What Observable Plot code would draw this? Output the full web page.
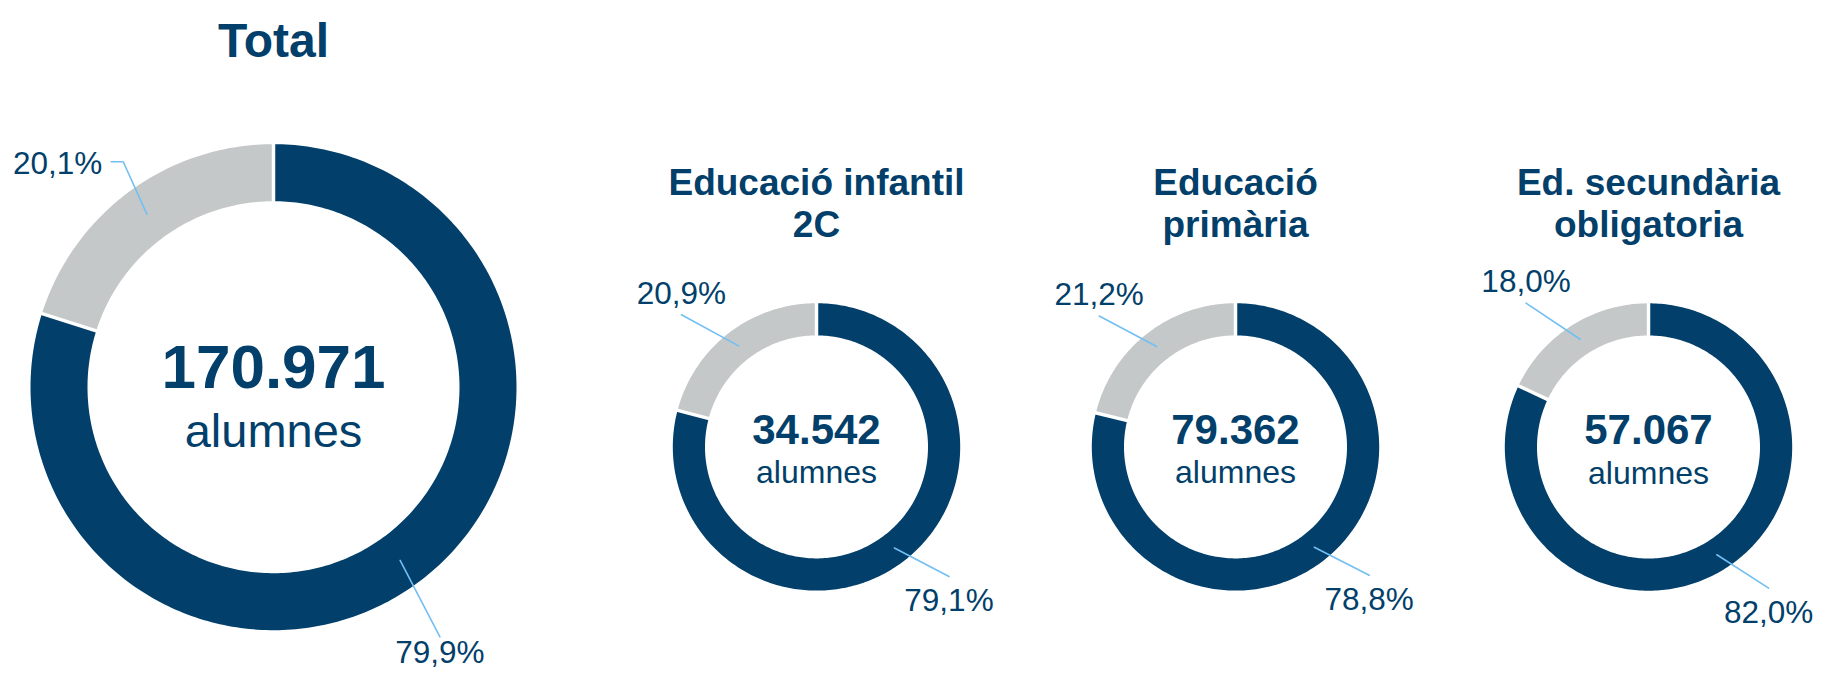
<!DOCTYPE html>
<html>
<head>
<meta charset="utf-8">
<script src="https://cdn.jsdelivr.net/npm/d3@7"></script>
<script src="https://cdn.jsdelivr.net/npm/@observablehq/plot@0.6"></script>
<style>
  html, body { margin: 0; padding: 0; background: #fff; overflow: hidden; }
  #chart { position: relative; width: 1821px; height: 676px; overflow: hidden; }
  #chart > div { position: absolute; top: 0; }
</style>
</head>
<body>
<div id="chart"></div>
<script>
// ---- data ----
const groups = ["Total", "Educació infantil\n2C", "Educació\nprimària", "Ed. secundària\nobligatoria"];
const students = [170971, 34542, 79362, 57067];
const navyShare = [79.9, 79.1, 78.8, 82.0];
const grayShare = [20.1, 20.9, 21.2, 18.0];
const unitLabel = "alumnes";

// ---- styles / layout ----
const NAVY = "#023f6a";
const GRAY = "#c4c8c8";
const LEADER = "#72bff3";
const FONT = "'Liberation Sans', Arial, Helvetica, sans-serif";
const H = 676;

const layouts = [
  {cx: 273.4, cy: 386.7, r: 243, rIn: 186, W: 546, titleSize: 48, titleTop: 18, numSize: 62, numDy: 0.6, unitSize: 47, unitDy: 60, rot: 2.5, grayR: 1.115, navyR: 1.235, navyDy: 4, elbow: true},
  {cx: 816.3, cy: 446.4, r: 143.7, rIn: 111.5, W: 380, titleSize: 37, titleTop: 165.4, numSize: 42, numDy: -3, unitSize: 32, unitDy: 36.5, rot: -8, grayR: 1.315, navyR: 1.29, navyDy: 12, elbow: false},
  {cx: 1234.7, cy: 446.4, r: 143.7, rIn: 111.5, W: 380, titleSize: 37, titleTop: 165.4, numSize: 42, numDy: -3, unitSize: 32, unitDy: 36.5, rot: -8, grayR: 1.315, navyR: 1.29, navyDy: 12, elbow: false},
  {cx: 1647.8, cy: 446.5, r: 143.7, rIn: 111.5, W: 380, titleSize: 37, titleTop: 165.4, numSize: 42, numDy: -3, unitSize: 32, unitDy: 36.5, rot: -8, grayR: 1.315, navyR: 1.29, navyDy: 12, elbow: false}
];
const LABEL_SIZE = 31.5;

const loc = d3.formatLocale({decimal: ",", thousands: ".", grouping: [3], currency: ["", " €"]});
const fmtInt = loc.format(",d");
const fmtPct = v => loc.format(".1f")(v) + "%";

const rad = a => a * Math.PI / 180;
const pt = (a, r) => ({x: r * Math.sin(rad(a)), y: r * Math.cos(rad(a))});

function ring(a0, a1, r0, r1) {
  const n = Math.max(2, Math.ceil(Math.abs(a1 - a0)));
  const pts = [];
  for (let i = 0; i <= n; i++) pts.push(pt(a0 + (a1 - a0) * i / n, r1));
  for (let i = n; i >= 0; i--) pts.push(pt(a0 + (a1 - a0) * i / n, r0));
  pts.push(pts[0]);
  return pts;
}

const root = document.getElementById("chart");

groups.forEach((title, i) => {
  const L = layouts[i];
  const inner = L.rIn / L.r;
  const total = navyShare[i] + grayShare[i];
  const navyEnd = 360 * navyShare[i] / total;
  const navyMid = navyEnd / 2;
  const grayMid = navyEnd + (360 - navyEnd) / 2;
  const midR = (1 + inner) / 2;

  const navyPoly = ring(0, navyEnd, inner, 1);
  const grayPoly = ring(navyEnd, 360, inner, 1);

  const gaps = [0, navyEnd].map(a => {
    const p0 = pt(a, inner * 0.96), p1 = pt(a, 1.04);
    return {x1: p0.x, y1: p0.y, x2: p1.x, y2: p1.y};
  });

  const grayAnchor = pt(grayMid + L.rot, L.grayR);
  const navyAnchor = pt(navyMid + L.rot, L.navyR);
  const grayLeader = [pt(grayMid, midR), grayAnchor];
  if (L.elbow) grayLeader.push({x: grayAnchor.x - 12 / L.r, y: grayAnchor.y});
  const navyLeader = [pt(navyMid, midR), navyAnchor];

  const halfW = L.W / 2 / L.r;
  const chart = Plot.plot({
    width: L.W,
    height: H,
    margin: 0,
    x: {domain: [-halfW, halfW], axis: null},
    y: {domain: [-(H - L.cy) / L.r, L.cy / L.r], axis: null},
    style: {background: "transparent", fontFamily: FONT, overflow: "visible"},
    marks: [
      Plot.line(navyPoly, {x: "x", y: "y", fill: NAVY, stroke: "none"}),
      Plot.line(grayPoly, {x: "x", y: "y", fill: GRAY, stroke: "none"}),
      Plot.link(gaps, {x1: "x1", y1: "y1", x2: "x2", y2: "y2", stroke: "white", strokeWidth: 3.5}),
      Plot.line(grayLeader, {x: "x", y: "y", stroke: LEADER, strokeWidth: 1.6}),
      Plot.line(navyLeader, {x: "x", y: "y", stroke: LEADER, strokeWidth: 1.6}),
      L.elbow
        ? Plot.text([{...grayAnchor, t: fmtPct(grayShare[i])}], {x: "x", y: "y", text: "t", dx: -21, dy: 2, textAnchor: "end", lineAnchor: "middle", fontSize: LABEL_SIZE, fill: NAVY, fontFamily: FONT})
        : Plot.text([{...grayAnchor, t: fmtPct(grayShare[i])}], {x: "x", y: "y", text: "t", dy: -11, textAnchor: "middle", lineAnchor: "bottom", fontSize: LABEL_SIZE, fill: NAVY, fontFamily: FONT}),
      Plot.text([{...navyAnchor, t: fmtPct(navyShare[i])}], {x: "x", y: "y", text: "t", dy: L.navyDy, textAnchor: "middle", lineAnchor: "top", fontSize: LABEL_SIZE, fill: NAVY, fontFamily: FONT}),
      Plot.text([{x: 0, y: 0, t: fmtInt(students[i])}], {x: "x", y: "y", text: "t", dy: L.numDy, lineAnchor: "bottom", textAnchor: "middle", fontSize: L.numSize, fontWeight: "bold", fill: NAVY, fontFamily: FONT}),
      Plot.text([{x: 0, y: 0, t: unitLabel}], {x: "x", y: "y", text: "t", dy: L.unitDy, lineAnchor: "bottom", textAnchor: "middle", fontSize: L.unitSize, fill: NAVY, fontFamily: FONT}),
      Plot.text([title], {frameAnchor: "top", text: d => d, dy: L.titleTop, lineAnchor: "top", textAnchor: "middle", lineHeight: 1.125, fontSize: L.titleSize, fontWeight: "bold", fill: NAVY, fontFamily: FONT})
    ]
  });
  const wrap = document.createElement("div");
  wrap.style.left = (L.cx - L.W / 2) + "px";
  wrap.style.width = L.W + "px";
  wrap.appendChild(chart);
  root.appendChild(wrap);
});
</script>
</body>
</html>
